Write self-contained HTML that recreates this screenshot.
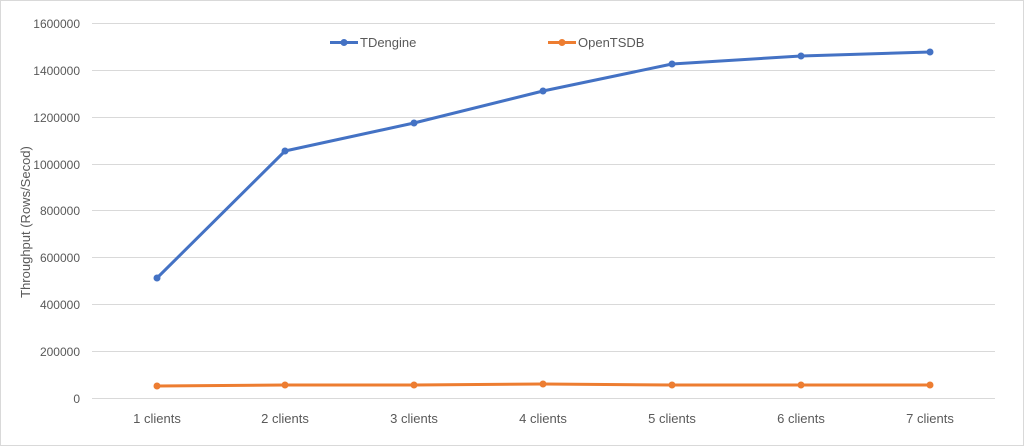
<!DOCTYPE html>
<html><head><style>
html,body{margin:0;padding:0;background:#fff;}
svg{display:block;}
text{font-family:"Liberation Sans",sans-serif;fill:#595959;}
</style></head><body>
<svg width="1024" height="446" xmlns="http://www.w3.org/2000/svg">
<rect x="0.5" y="0.5" width="1023" height="445" fill="#fff" stroke="#d9d9d9"/>
<g stroke="#d9d9d9" stroke-width="1">
<line x1="92" x2="995" y1="23.5" y2="23.5"/>
<line x1="92" x2="995" y1="70.5" y2="70.5"/>
<line x1="92" x2="995" y1="117.5" y2="117.5"/>
<line x1="92" x2="995" y1="164.5" y2="164.5"/>
<line x1="92" x2="995" y1="210.5" y2="210.5"/>
<line x1="92" x2="995" y1="257.5" y2="257.5"/>
<line x1="92" x2="995" y1="304.5" y2="304.5"/>
<line x1="92" x2="995" y1="351.5" y2="351.5"/>
<line x1="92" x2="995" y1="398.5" y2="398.5"/>
</g>
<g font-size="12" text-anchor="end">
<text x="80" y="28">1600000</text>
<text x="80" y="75">1400000</text>
<text x="80" y="122">1200000</text>
<text x="80" y="169">1000000</text>
<text x="80" y="215">800000</text>
<text x="80" y="262">600000</text>
<text x="80" y="309">400000</text>
<text x="80" y="356">200000</text>
<text x="80" y="403">0</text>
</g>
<text font-size="13" text-anchor="middle" transform="translate(30,222) rotate(-90)">Throughput (Rows/Secod)</text>
<g font-size="13" text-anchor="middle">
<text x="157" y="423">1 clients</text>
<text x="285" y="423">2 clients</text>
<text x="414" y="423">3 clients</text>
<text x="543" y="423">4 clients</text>
<text x="672" y="423">5 clients</text>
<text x="801" y="423">6 clients</text>
<text x="930" y="423">7 clients</text>
</g>
<polyline fill="none" stroke="#4472c4" stroke-width="3" stroke-linejoin="round" points="157,278 285,151 414,123 543,91 672,64 801,56 930,52"/>
<g fill="#4472c4">
<circle cx="157" cy="278" r="3.5"/><circle cx="285" cy="151" r="3.5"/><circle cx="414" cy="123" r="3.5"/><circle cx="543" cy="91" r="3.5"/><circle cx="672" cy="64" r="3.5"/><circle cx="801" cy="56" r="3.5"/><circle cx="930" cy="52" r="3.5"/>
</g>
<polyline fill="none" stroke="#ed7d31" stroke-width="3" points="157,386 285,385 414,385 543,384 672,385 801,385 930,385"/>
<g fill="#ed7d31">
<circle cx="157" cy="386" r="3.5"/><circle cx="285" cy="385" r="3.5"/><circle cx="414" cy="385" r="3.5"/><circle cx="543" cy="384" r="3.5"/><circle cx="672" cy="385" r="3.5"/><circle cx="801" cy="385" r="3.5"/><circle cx="930" cy="385" r="3.5"/>
</g>
<line x1="330" x2="358" y1="42.5" y2="42.5" stroke="#4472c4" stroke-width="3"/>
<circle cx="344" cy="42.5" r="3.5" fill="#4472c4"/>
<text x="360" y="47" font-size="13">TDengine</text>
<line x1="548" x2="576" y1="42.5" y2="42.5" stroke="#ed7d31" stroke-width="3"/>
<circle cx="562" cy="42.5" r="3.5" fill="#ed7d31"/>
<text x="578" y="47" font-size="13">OpenTSDB</text>
</svg>
</body></html>
